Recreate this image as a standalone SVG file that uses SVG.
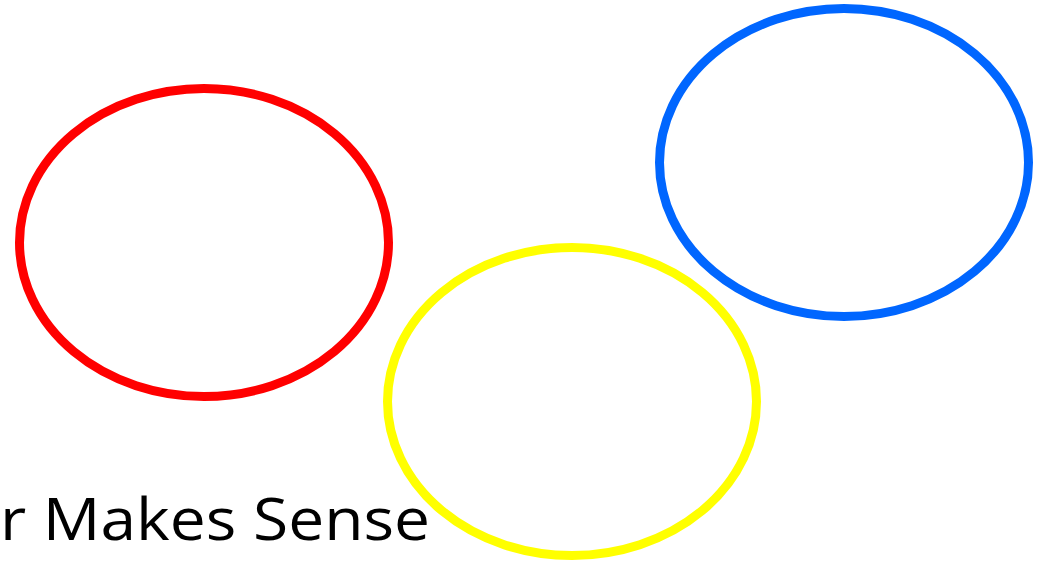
<svg xmlns="http://www.w3.org/2000/svg" width="1044" height="562" viewBox="0 0 1044 562">
<style>
.ring{fill:none;stroke-width:9}
.lbl{font-family:"Open Sans","Liberation Sans",sans-serif;font-size:59px;fill:#000}
</style>
<rect width="1044" height="562" fill="#fff"/>
<g id="red"><ellipse class="ring" cx="204" cy="242.5" rx="184.5" ry="154" stroke="#FF0000"/></g>
<g id="yellow"><ellipse class="ring" cx="572" cy="401.5" rx="184.5" ry="154" stroke="#FFFF00"/></g>
<g id="blue"><ellipse class="ring" cx="844" cy="162.5" rx="184.5" ry="154" stroke="#0066FF"/></g>
<g id="caption"><text class="lbl" x="0" y="540" textLength="430" lengthAdjust="spacingAndGlyphs">r Makes Sense</text></g>
</svg>
